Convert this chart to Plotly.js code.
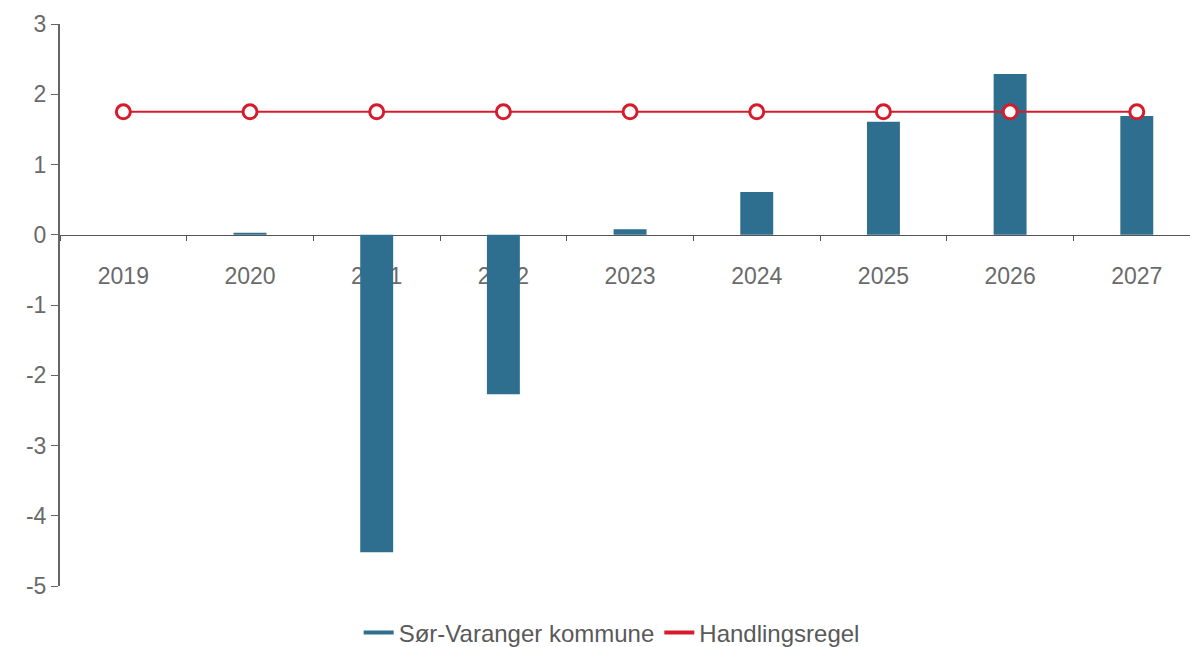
<!DOCTYPE html>
<html>
<head>
<meta charset="utf-8">
<script src="https://cdn.plot.ly/plotly-3.0.1.min.js"></script>
<style>html,body{margin:0;padding:0;background:#fff;}#chart{width:1190px;height:647px;}</style>
</head>
<body>
<div id="chart"></div>
<script>
const years = ['2019','2020','2021','2022','2023','2024','2025','2026','2027'];
const sorVaranger = [0, 0.03, -4.52, -2.27, 0.08, 0.61, 1.61, 2.29, 1.69];
const handlingsregel = [1.75, 1.75, 1.75, 1.75, 1.75, 1.75, 1.75, 1.75, 1.75];
const seriesNames = ['Sør-Varanger kommune', 'Handlingsregel'];
const yTicks = [-5, -4, -3, -2, -1, 0, 1, 2, 3];

const barColor = '#2e6f8f';
const lineColor = '#d61c2c';

const traces = [
  {
    type: 'bar', x: years, y: sorVaranger, name: seriesNames[0],
    marker: {color: barColor}, showlegend: false, hoverinfo: 'x+y'
  },
  {
    type: 'scatter', mode: 'lines+markers', x: years, y: handlingsregel, name: seriesNames[1],
    line: {color: lineColor, width: 2},
    marker: {symbol: 'circle', size: 14, color: '#ffffff', line: {color: lineColor, width: 3}},
    showlegend: false, cliponaxis: false
  },
  {
    type: 'scatter', mode: 'lines', x: [null], y: [null], name: seriesNames[0],
    line: {color: barColor, width: 4}, hoverinfo: 'skip'
  },
  {
    type: 'scatter', mode: 'lines', x: [null], y: [null], name: seriesNames[1],
    line: {color: lineColor, width: 4}, hoverinfo: 'skip'
  }
];

const layout = {
  width: 1190, height: 647,
  margin: {l: 60, r: 0, t: 24, b: 61},
  paper_bgcolor: '#ffffff', plot_bgcolor: '#ffffff',
  font: {family: 'Liberation Sans, Arial, sans-serif', size: 23, color: '#6a6a6a'},
  bargap: 0.74,
  showlegend: true,
  legend: {orientation: 'h', x: 0.514, xanchor: 'center', xref: 'container',
           y: 0.0216, yanchor: 'middle', yref: 'container',
           font: {size: 24, color: '#595959'}, itemwidth: 30},
  xaxis: {
    type: 'category', categoryorder: 'array', categoryarray: years,
    range: [-0.5, 8.42], autorange: false,
    anchor: 'free', position: 0.625,
    showline: true, linecolor: '#555555', linewidth: 1,
    ticks: 'outside', tickson: 'boundaries', ticklen: 5, tickcolor: '#555555',
    ticklabelstandoff: 21,
    tickfont: {size: 23, color: '#6a6a6a'},
    showgrid: false, zeroline: false, layer: 'below traces', fixedrange: true
  },
  yaxis: {
    range: [-5, 3], domain: [0, 1],
    tickvals: yTicks, ticktext: yTicks.map(String),
    showline: true, linecolor: '#666666', linewidth: 2,
    ticks: 'outside', ticklen: 7, tickcolor: '#666666',
    tickfont: {size: 23, color: '#6a6a6a'},
    showgrid: false, zeroline: false, fixedrange: true
  }
};

Plotly.newPlot('chart', traces, layout, {displayModeBar: false, staticPlot: true});
</script>
</body>
</html>
